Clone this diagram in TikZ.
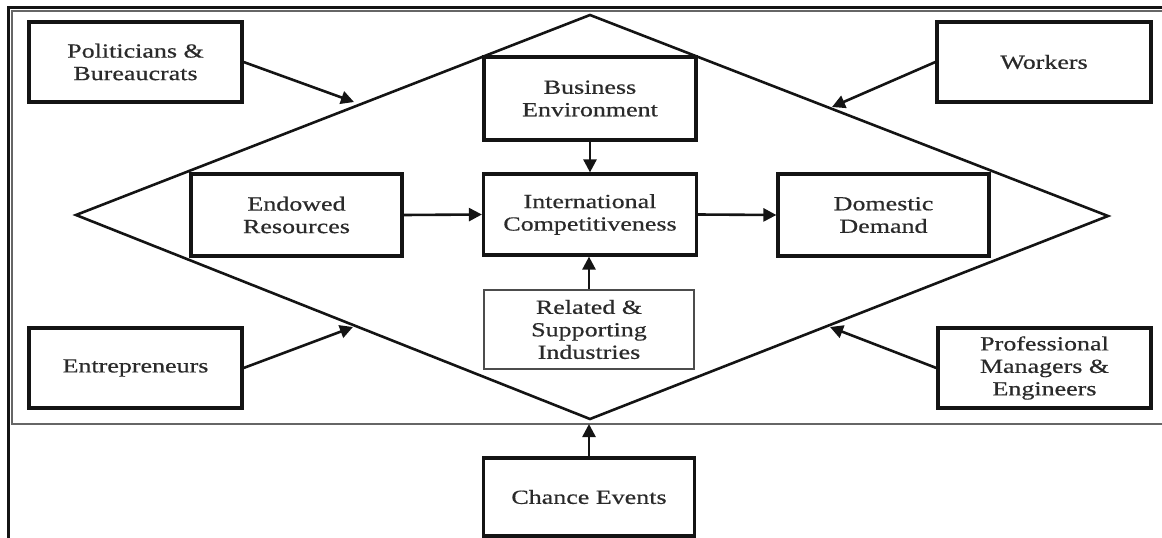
\documentclass[tikz,border=0pt]{standalone}
\usepackage{fontspec}
\setmainfont{Liberation Serif}[FakeStretch=1.3, FakeBold=0.6]
\usetikzlibrary{arrows.meta}
\definecolor{ink}{HTML}{141414}
\definecolor{txt}{HTML}{2A2A2A}
\tikzset{
  box/.style={draw=ink, line width=3.2pt, inner sep=0pt, align=center,
    text=txt, font=\fontsize{20}{22.5}\selectfont},
  thinbox/.style={box, draw=black!70, line width=1.6pt},
  link/.style={draw=ink, line width=2.6pt, -{Triangle[length=13pt,width=13pt]}},
  rim/.style={draw=ink, line width=2.6pt},
}
\begin{document}
\begin{tikzpicture}[x=1pt, y=-1pt]
  \useasboundingbox (0,0) rectangle (1162,538);
  % page frames
  \draw[rim, line width=3pt] (8,538) -- (8,7) -- (1162,7);
  \draw[draw=black!60, line width=1.8pt] (1162,11) -- (12,11) -- (12,424) -- (1162,424);

  % diamond
  \coordinate (dt) at (590,15);
  \coordinate (dl) at (76,215);
  \coordinate (dr) at (1108,216);
  \coordinate (db) at (590,419);
  \draw[rim] (dt) -- (dr) -- (db) -- (dl) -- cycle;

  % boxes
  \node[box, minimum width=213pt, minimum height=80pt] (pol) at (135.5,62) {Politicians \&\\Bureaucrats};
  \node[box, minimum width=214pt, minimum height=80pt] (work) at (1044,62) {Workers};
  \node[box, minimum width=212pt, minimum height=83pt] (bus) at (590,98.5) {Business\\Environment};
  \node[box, minimum width=213pt, minimum height=81pt] (intl) at (590,214.5) {International\\Competitiveness};
  \node[box, minimum width=211pt, minimum height=82pt] (endow) at (296.5,215) {Endowed\\Resources};
  \node[box, minimum width=211pt, minimum height=82pt] (dom) at (883.5,215) {Domestic\\Demand};
  \node[thinbox, minimum width=210pt, minimum height=79pt] (rel) at (589,329.5) {Related \&\\Supporting\\Industries};
  \node[box, minimum width=211pt, minimum height=78pt] (chance) at (589,497) {Chance Events};
  \node[box, minimum width=213pt, minimum height=80pt] (entr) at (135.5,368) {Entrepreneurs};
  \node[box, minimum width=213pt, minimum height=80pt] (prof) at (1044.5,368) {Professional\\Managers \&\\Engineers};

  % arrow ends on the diamond
  \coordinate (pe) at (354,102);
  \coordinate (we) at (832,107);
  \coordinate (ee) at (353,327);
  \coordinate (mge) at (830,327);
  \coordinate (ce) at (589,424);

  % connectors
  \draw[link] (pol.east) -- (pe);
  \draw[link] (work.west) -- (we);
  \draw[link] (entr.east) -- (ee);
  \draw[link] (prof.west) -- (mge);
  \draw[link] (bus.south) -- (intl.north);
  \draw[link] (rel.north) -- (rel.north |- intl.south);
  \draw[link] (endow.east) -- (intl.west);
  \draw[link] (intl.east) -- (dom.west);
  \draw[link] (chance.north) -- (ce);
\end{tikzpicture}
\end{document}
